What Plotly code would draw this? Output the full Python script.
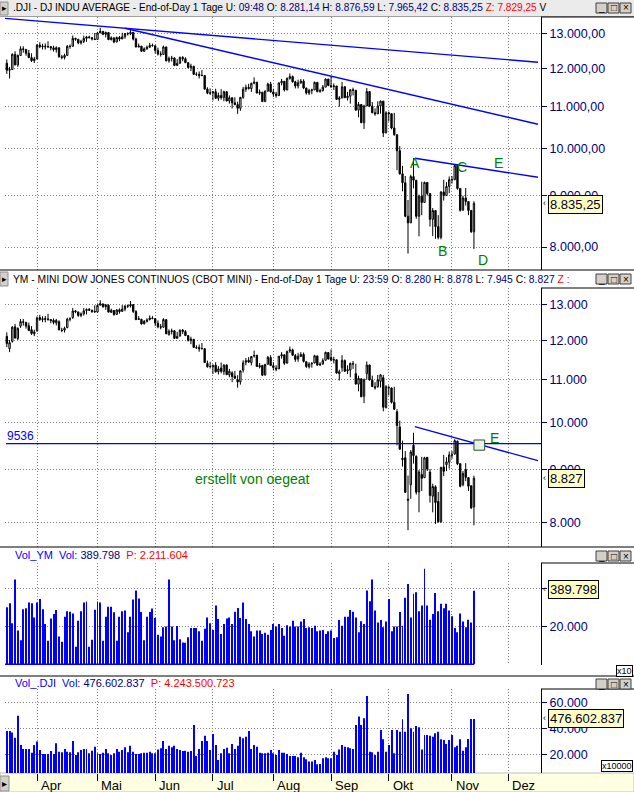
import math
import plotly.graph_objects as go

# ---------------- DATA ----------------
# trading-day index 0..170  (14 Mar 2008 .. 13 Nov 2008)
day_index = list(range(171))

month_labels = ["Apr", "Mai", "Jun", "Jul", "Aug", "Sep", "Okt", "Nov", "Dez"]
month_ticks = [11, 33, 54, 75, 97, 118, 139, 162, 182.5]

dji_open = [12145, 11951, 11972, 12393, 12100, 12361, 12549, 12533, 12423, 12302, 12216,
            12263, 12654, 12609, 12626, 12609, 12612, 12576, 12527, 12582, 12325, 12302, 12362, 12619, 12620, 12849, 12825, 12720, 12763, 12849, 12892, 12872, 12831,
            12820, 13010, 13058, 12970, 13021, 12814, 12867, 12746, 12876, 12832, 12898, 12993, 12987, 13028, 12829, 12601, 12626, 12480, 12548, 12594, 12646,
            12638, 12504, 12403, 12390, 12604, 12210, 12280, 12290, 12084, 12142, 12307, 12269, 12160, 12029, 12063, 11843, 11842, 11807, 11812, 11453, 11347,
            11350, 11382, 11216, 11289, 11232, 11384, 11147, 11229, 11101, 11055, 10963, 11239, 11447, 11497, 11467, 11603, 11632, 11349, 11371, 11131, 11398, 11584,
            11378, 11326, 11284, 11616, 11656, 11431, 11734, 11782, 11642, 11533, 11616, 11660, 11479, 11349, 11417, 11430, 11628, 11386, 11413, 11503, 11715,
            11544, 11517, 11533, 11188, 11221, 11511, 11231, 11269, 11434, 11422, 10918, 11059, 10610, 11020, 11388, 11016, 10854, 10825, 11022, 11143, 10365,
            10851, 10831, 10483, 10325, 9956, 9447, 9258, 8579, 8451, 9388, 9311, 8578, 8979, 8852, 9265, 9034, 8519, 8691, 8379, 8176, 9065, 8991, 9181,
            9325, 9320, 9625, 9139, 8696, 8944, 8871, 8694, 8281]
dji_high = [12249, 12045, 12422, 12480, 12388, 12622, 12622, 12533, 12516, 12421, 12321,
            12690, 12738, 12695, 12705, 12766, 12612, 12636, 12621, 12582, 12376, 12409, 12658, 12672, 12935, 12871, 12825, 12806, 12932, 12924, 12930, 12880, 13010,
            13040, 13163, 13060, 13050, 13040, 12910, 12867, 12900, 12920, 13015, 13010, 13030, 13136, 13028, 12870, 12700, 12626, 12590, 12640, 12720, 12700,
            12638, 12580, 12480, 12640, 12604, 12330, 12350, 12310, 12260, 12330, 12340, 12310, 12160, 12130, 12063, 11900, 11920, 11960, 11812, 11500, 11470,
            11400, 11460, 11360, 11450, 11410, 11400, 11290, 11230, 11240, 11130, 11250, 11510, 11570, 11590, 11620, 11760, 11640, 11440, 11380, 11420, 11620, 11640,
            11460, 11380, 11620, 11720, 11660, 11760, 11867, 11810, 11670, 11700, 11720, 11710, 11490, 11460, 11460, 11650, 11630, 11460, 11560, 11730, 11720,
            11790, 11600, 11533, 11270, 11640, 11530, 11380, 11450, 11490, 11422, 11120, 11059, 11050, 11480, 11390, 11120, 10960, 11140, 11160, 11143, 10890,
            10880, 10831, 10850, 10325, 10060, 9620, 9400, 8901, 9427, 9794, 9311, 9010, 9280, 9280, 9270, 9034, 8740, 8691, 8600, 9080, 9320, 9270, 9390,
            9400, 9654, 9625, 9139, 8990, 9150, 8871, 8694, 8877]
dji_low = [11855, 11731, 11972, 12085, 12046, 12361, 12440, 12352, 12283, 12180, 12150,
           12263, 12567, 12531, 12527, 12571, 12505, 12470, 12440, 12300, 12254, 12250, 12362, 12550, 12620, 12780, 12680, 12672, 12716, 12750, 12848, 12790, 12800,
           12814, 13006, 12940, 12880, 12800, 12790, 12710, 12740, 12770, 12832, 12840, 12935, 12946, 12790, 12590, 12590, 12460, 12460, 12520, 12580, 12610,
           12420, 12360, 12330, 12380, 12200, 12160, 12190, 12070, 12084, 12142, 12200, 12150, 12000, 11930, 11830, 11800, 11730, 11800, 11440, 11320, 11300,
           11160, 11200, 11150, 11180, 11140, 11140, 11080, 10960, 11040, 10827, 10900, 11200, 11380, 11440, 11380, 11580, 11340, 11300, 11120, 11120, 11390, 11360,
           11250, 11230, 11284, 11550, 11390, 11420, 11700, 11620, 11470, 11470, 11590, 11450, 11310, 11300, 11320, 11430, 11370, 11360, 11390, 11500, 11530,
           11480, 11430, 11170, 11000, 11221, 11220, 11160, 11080, 11290, 10900, 10740, 10600, 10460, 11020, 11000, 10840, 10780, 10825, 10830, 10270, 10365,
           10640, 10450, 10300, 9525, 9430, 9080, 8560, 7882, 8451, 9140, 8530, 8197, 8600, 8850, 8990, 8380, 8200, 8150, 8140, 8140, 8890, 8990, 9040,
           9240, 9320, 9110, 8670, 8696, 8790, 8600, 8260, 7965]
dji_close = [11951, 11972, 12393, 12100, 12361, 12549, 12533, 12423, 12302, 12216, 12263,
             12654, 12609, 12626, 12609, 12612, 12576, 12527, 12582, 12325, 12302, 12362, 12619, 12620, 12849, 12825, 12720, 12763, 12849, 12892, 12872, 12831, 12820,
             13010, 13058, 12970, 13021, 12814, 12867, 12746, 12876, 12832, 12898, 12993, 12987, 13028, 12829, 12601, 12626, 12480, 12548, 12594, 12646, 12638,
             12504, 12403, 12390, 12604, 12210, 12280, 12290, 12084, 12142, 12307, 12269, 12160, 12029, 12063, 11843, 11842, 11807, 11812, 11453, 11347, 11350,
             11382, 11216, 11289, 11232, 11384, 11147, 11229, 11101, 11055, 10963, 11239, 11447, 11497, 11467, 11603, 11632, 11349, 11371, 11131, 11398, 11584, 11378,
             11326, 11284, 11616, 11656, 11431, 11734, 11782, 11642, 11533, 11616, 11660, 11479, 11349, 11417, 11430, 11628, 11386, 11413, 11503, 11715, 11544,
             11517, 11533, 11188, 11221, 11511, 11231, 11269, 11434, 11422, 10918, 11059, 10610, 11020, 11388, 11016, 10854, 10825, 11022, 11143, 10365, 10851,
             10831, 10483, 10325, 9956, 9447, 9258, 8579, 8451, 9388, 9311, 8578, 8979, 8852, 9265, 9034, 8519, 8691, 8379, 8176, 9065, 8991, 9181, 9325,
             9320, 9625, 9139, 8696, 8944, 8871, 8694, 8283, 8835]

ym_open = [12120, 11790, 11985, 12380, 12060, 12400, 12520, 12505, 12410, 12300,
           12190, 12270, 12640, 12580, 12610, 12600, 12585, 12560, 12490, 12520,
           12290, 12290, 12360, 12600, 12640, 12830, 12800, 12700, 12745, 12840,
           12875, 12850, 12815, 12795, 12995, 13030, 12950, 12990, 12790, 12840,
           12730, 12860, 12815, 12880, 12975, 12970, 13010, 12810, 12585, 12590,
           12470, 12530, 12580, 12625, 12610, 12480, 12385, 12370, 12580, 12165,
           12250, 12270, 12065, 12125, 12290, 12250, 12140, 12005, 12040, 11810,
           11820, 11790, 11790, 11410, 11330, 11320, 11365, 11200, 11290, 11200,
           11370, 11120, 11170, 11090, 11000, 10950, 11240, 11440, 11490, 11430,
           11600, 11620, 11320, 11360, 11120, 11390, 11560, 11350, 11290, 11270,
           11600, 11630, 11420, 11730, 11760, 11610, 11520, 11590, 11640, 11450,
           11320, 11400, 11420, 11600, 11370, 11400, 11490, 11690, 11560, 11490,
           11500, 11150, 11300, 11480, 11220, 11240, 11390, 11150, 10890, 11020,
           10600, 11150, 11370, 10990, 10830, 10830, 10960, 11050, 10330, 10800,
           10800, 10460, 10240, 9900, 9200, 9240, 8400, 8700, 9500, 9270,
           8560, 8900, 8840, 9250, 8950, 8480, 8660, 8380, 8010, 9050,
           9100, 9150, 9300, 9320, 9590, 9120, 8700, 9000, 8840, 8680,
           8280]
ym_high = [12230, 12020, 12400, 12460, 12365, 12600, 12600, 12515, 12495, 12400,
           12300, 12670, 12715, 12675, 12685, 12745, 12595, 12615, 12600, 12560,
           12355, 12385, 12635, 12650, 12915, 12850, 12805, 12785, 12910, 12900,
           12910, 12860, 12990, 13020, 13140, 13040, 13030, 13020, 12890, 12850,
           12880, 12900, 12995, 12990, 13010, 13115, 13010, 12850, 12680, 12605,
           12570, 12620, 12700, 12680, 12620, 12560, 12460, 12620, 12585, 12310,
           12330, 12290, 12240, 12310, 12320, 12290, 12145, 12110, 12045, 11880,
           11900, 11940, 11795, 11480, 11450, 11380, 11440, 11340, 11430, 11390,
           11380, 11270, 11210, 11220, 11110, 11230, 11490, 11550, 11570, 11600,
           11740, 11620, 11420, 11360, 11400, 11600, 11620, 11440, 11360, 11600,
           11700, 11640, 11740, 11845, 11790, 11650, 11680, 11700, 11690, 11470,
           11440, 11440, 11630, 11610, 11440, 11540, 11710, 11700, 11770, 11580,
           11515, 11250, 11620, 11510, 11360, 11430, 11470, 11400, 11100, 11040,
           11030, 11460, 11370, 11100, 10940, 11120, 11140, 11120, 10870, 10860,
           10810, 10830, 10300, 10040, 9600, 9380, 8880, 9400, 9770, 9290,
           8990, 9260, 9260, 9250, 9010, 8720, 8690, 8560, 9060, 9300,
           9250, 9370, 9380, 9630, 9600, 9120, 8970, 9130, 8850, 8680,
           8878]
ym_low = [11830, 11700, 11950, 12060, 12020, 12350, 12415, 12330, 12260, 12160,
          12125, 12245, 12545, 12510, 12505, 12550, 12480, 12450, 12420, 12280,
          12230, 12225, 12340, 12530, 12600, 12760, 12660, 12650, 12695, 12730,
          12825, 12770, 12780, 12790, 12985, 12920, 12860, 12780, 12770, 12690,
          12720, 12750, 12810, 12820, 12915, 12925, 12770, 12570, 12570, 12440,
          12440, 12500, 12560, 12590, 12400, 12340, 12310, 12360, 12180, 12140,
          12170, 12050, 12060, 12120, 12180, 12130, 11980, 11910, 11810, 11780,
          11710, 11780, 11420, 11300, 11280, 11140, 11180, 11130, 11160, 11120,
          11120, 11060, 10940, 11020, 10805, 10880, 11180, 11360, 11420, 11360,
          11560, 11320, 11280, 11100, 11100, 11370, 11340, 11230, 11210, 11265,
          11530, 11370, 11400, 11680, 11600, 11450, 11450, 11570, 11430, 11290,
          11280, 11300, 11410, 11350, 11340, 11370, 11480, 11510, 11460, 11410,
          11150, 10980, 11200, 11200, 11140, 11060, 11270, 10880, 10720, 10580,
          10440, 11000, 10980, 10820, 10760, 10805, 10810, 10250, 10330, 10620,
          10430, 10280, 9500, 9410, 9060, 8540, 7860, 8430, 9120, 8510,
          8180, 8580, 8830, 8970, 8360, 8180, 7970, 7990, 7990, 8870,
          8970, 9020, 9220, 9300, 9090, 8650, 8670, 8770, 8580, 8240,
          7945]
ym_close = [11925, 11950, 12370, 12075, 12340, 12525, 12510, 12400, 12280, 12195,
            12240, 12630, 12585, 12605, 12590, 12590, 12555, 12505, 12560, 12300,
            12280, 12340, 12595, 12600, 12825, 12805, 12700, 12740, 12830, 12870,
            12850, 12810, 12800, 12985, 13035, 12950, 13000, 12795, 12845, 12725,
            12855, 12810, 12880, 12970, 12965, 13005, 12810, 12580, 12605, 12460,
            12530, 12575, 12625, 12615, 12485, 12380, 12370, 12585, 12190, 12260,
            12270, 12065, 12120, 12285, 12250, 12140, 12010, 12045, 11825, 11820,
            11785, 11790, 11430, 11325, 11330, 11360, 11195, 11270, 11210, 11365,
            11125, 11210, 11080, 11035, 10945, 11220, 11425, 11475, 11445, 11585,
            11610, 11330, 11350, 11110, 11380, 11565, 11355, 11305, 11265, 11595,
            11635, 11410, 11715, 11760, 11620, 11510, 11595, 11640, 11460, 11330,
            11395, 11410, 11605, 11365, 11390, 11480, 11695, 11520, 11495, 11510,
            11165, 11200, 11490, 11210, 11250, 11410, 11400, 10895, 11035, 10590,
            11000, 11365, 10995, 10835, 10805, 11000, 11120, 10345, 10830, 10810,
            10460, 10300, 9930, 9420, 9230, 8555, 8425, 9360, 9285, 8555,
            8950, 8825, 9240, 9010, 8495, 8665, 8360, 8010, 9040, 8965,
            9155, 9300, 9295, 9600, 9115, 8670, 8920, 8845, 8670, 8260,
            8827]

# YM volume (axis units, x10)
vol_ym = [30300, 32400, 21800, 45000, 17900, 12800, 29200, 29700, 32800, 32400,
          24900, 32800, 34700, 29200, 21400, 12500, 24300, 26700, 28800, 14800,
          11900, 25300, 28100, 27900, 27000, 9300, 23100, 28100, 32800, 33300,
          9300, 13000, 29000, 33300, 32800, 12500, 25300, 30600, 30600, 27600,
          12500, 25300, 28100, 28500, 17000, 25300, 34400, 39200, 34900, 27800,
          12800, 25300, 27800, 29600, 24600, 15700, 14800, 19600, 20000, 45000,
          20000, 12800, 20300, 13300, 11500, 11400, 14300, 19300, 19300, 19300,
          17500, 12500, 18800, 24900, 21800, 18200, 31200, 24000, 16100, 21400,
          24300, 24900, 21400, 27900, 29900, 24600, 32800, 24100, 21400, 17500,
          14800, 17900, 17900, 16100, 16800, 15700, 18200, 21400, 20000, 21400,
          19300, 15200, 20700, 20000, 23100, 20000, 20000, 22700, 24000, 19300,
          19600, 19300, 20500, 17500, 17900, 18200, 16100, 17500, 17900, 13900,
          14300, 23500, 20500, 25300, 25300, 28800, 27900, 24900, 17000, 22900,
          21400, 39200, 33500, 45000, 28500, 22200, 23500, 19600, 22700, 34700,
          17500, 20000, 20000, 27800, 20500, 35300, 42700, 24900, 37400, 38300,
          28100, 31200, 50700, 31200, 23700, 26700, 37900, 28100, 32100, 29700,
          32100, 28500, 25500, 19300, 17000, 27000, 22700, 19600, 23700, 22200,
          39000]

# DJI volume (axis units, x10000)
vol_dji = [38500, 38500, 37200, 33300, 50200, 27700, 24600, 24600, 24600, 21800,
           27700, 30300, 23800, 20800, 20800, 20800, 23000, 20800, 29000, 22500,
           22000, 24600, 22500, 22000, 30800, 20000, 22000, 23800, 24600, 24600,
           21300, 23300, 26400, 21300, 20800, 21800, 24600, 21300, 20000, 21300,
           24600, 22500, 23800, 25900, 22000, 27000, 22500, 20800, 20800, 21300,
           21800, 21800, 22500, 21300, 21300, 24300, 25100, 30800, 24600, 27000,
           25900, 27000, 24600, 23800, 23000, 23300, 22500, 23000, 43100, 19200,
           24600, 30800, 34700, 30800, 23800, 36200, 27700, 16100, 21300, 24600,
           25600, 21300, 28500, 24600, 27000, 34100, 32800, 34100, 38500, 24600,
           27700, 26400, 21800, 21300, 21300, 21800, 23800, 21300, 20000, 23800,
           21800, 21800, 20800, 19200, 19200, 19200, 18200, 21800, 18200, 16700,
           14900, 14900, 16100, 12800, 13100, 17400, 18200, 17400, 17400, 22500,
           20000, 24300, 27700, 26400, 25900, 25100, 24600, 43100, 49500, 43100,
           48200, 65400, 22500, 22000, 20000, 22500, 39200, 32000, 22500, 27700,
           39200, 21300, 39200, 37900, 47400, 37900, 66900, 40500, 37900, 42300,
           41300, 24300, 35400, 35400, 34700, 34100, 36700, 37900, 32000, 31500,
           28500, 31500, 35400, 25900, 27000, 32000, 23300, 25900, 32300, 47700,
           47700]

# trend lines / marks drawn by the author
dji_line1_x = [-1.0, 193.3]
dji_line1_y = [13450, 12173]
dji_line2_x = [43.0, 193.3]
dji_line2_y = [13150, 10572]
dji_line3_x = [148.5, 193.3]
dji_line3_y = [9786, 9374]
ym_line_x = [148.5, 193.3]
ym_line_y = [9905, 9181]
ym_level = 9536
ym_level_x = [-0.3, 194.4]
ym_ebox_x = [170.0, 173.9]
ym_ebox_y = [9397, 9615]

dji_point_labels = ["A", "C", "E", "B", "D"]
dji_point_x = [148.5, 165.5, 179.1, 158.5, 173.4]
dji_point_y = [9690, 9601, 9690, 7933, 7767]

dji_ticks = [8000, 9000, 10000, 11000, 12000, 13000]
dji_ticktext = ["8.000,00", "9.000,00", "10.000,00", "11.000,00", "12.000,00", "13.000,00"]
ym_ticks = [8000, 9000, 10000, 11000, 12000, 13000]
ym_ticktext = ["8.000", "9.000", "10.000", "11.000", "12.000", "13.000"]
volym_ticks = [20000, 40000]
volym_ticktext = ["20.000", ""]          # 40.000 label is hidden behind the value tag
voldji_ticks = [20000, 40000, 60000]
voldji_ticktext = ["20.000", "40.000", "60.000"]

NAVY = "#000080"
header1 = (".DJI - DJ INDU AVERAGE - End-of-Day 1 Tage U: <span style='color:#000080'>09:48</span>"
           " O: <span style='color:#000080'>8.281,14</span> H: <span style='color:#000080'>8.876,59</span>"
           " L: <span style='color:#000080'>7.965,42</span> C: <span style='color:#000080'>8.835,25</span>"
           " <span style='color:#ff0000'>Z: 7.829,25</span> V")
header2 = ("YM - MINI DOW JONES CONTINUOS (CBOT MINI) - End-of-Day 1 Tage U: <span style='color:#000080'>23:59</span>"
           " O: <span style='color:#000080'>8.280</span> H: <span style='color:#000080'>8.878</span>"
           " L: <span style='color:#000080'>7.945</span> C: <span style='color:#000080'>8.827</span>"
           " <span style='color:#ff0000'>Z :</span>")
header3 = ("<span style='color:#0000ff'>Vol_YM  Vol:</span> <span style='color:#000080'>389.798</span>"
           "  <span style='color:#ff0000'>P: 2.211.604</span>")
header4 = ("<span style='color:#0000ff'>Vol_.DJI  Vol:</span> <span style='color:#000080'>476.602.837</span>"
           "  <span style='color:#ff0000'>P: 4.243.500.723</span>")

# ---------------- LAYOUT GEOMETRY (pixels) ----------------
W, H = 634, 792
FONT = "Liberation Sans, Arial, sans-serif"


def px_y(p):
    return 1 - p / H


def px_x(p):
    return p / W


XDOM = [px_x(5), px_x(541)]
XRANGE = [-0.66, 194.4]

fig = go.Figure()

candle_style = dict(
    increasing=dict(line=dict(color="black", width=1), fillcolor="white"),
    decreasing=dict(line=dict(color="black", width=1), fillcolor="black"),
    whiskerwidth=0, showlegend=False, hoverinfo="skip")

fig.add_trace(go.Candlestick(x=day_index, open=dji_open, high=dji_high, low=dji_low, close=dji_close,
                             xaxis="x", yaxis="y", **candle_style))
fig.add_trace(go.Candlestick(x=day_index, open=ym_open, high=ym_high, low=ym_low, close=ym_close,
                             xaxis="x2", yaxis="y2", **candle_style))

line_style = dict(mode="lines", line=dict(color="#0000ff", width=1.4), showlegend=False, hoverinfo="skip")
for lx, ly in [(dji_line1_x, dji_line1_y), (dji_line2_x, dji_line2_y), (dji_line3_x, dji_line3_y)]:
    fig.add_trace(go.Scatter(x=lx, y=ly, xaxis="x", yaxis="y", **line_style))
fig.add_trace(go.Scatter(x=ym_line_x, y=ym_line_y, xaxis="x2", yaxis="y2", **line_style))
fig.add_trace(go.Scatter(x=ym_level_x, y=[ym_level, ym_level], xaxis="x2", yaxis="y2", **line_style))
fig.add_trace(go.Scatter(
    x=[ym_ebox_x[0], ym_ebox_x[1], ym_ebox_x[1], ym_ebox_x[0], ym_ebox_x[0]],
    y=[ym_ebox_y[0], ym_ebox_y[0], ym_ebox_y[1], ym_ebox_y[1], ym_ebox_y[0]],
    xaxis="x2", yaxis="y2", mode="lines", fill="toself", fillcolor="#e8f0e8",
    line=dict(color="#2f4f2f", width=1), showlegend=False, hoverinfo="skip"))

fig.add_trace(go.Bar(x=day_index, y=vol_ym, xaxis="x3", yaxis="y3", width=0.36,
                     marker=dict(color="#0000ff", line=dict(width=0)), showlegend=False, hoverinfo="skip"))
fig.add_trace(go.Scatter(x=[day_index[0] - 0.7, day_index[-1]], y=[0, 0], xaxis="x3", yaxis="y3",
                         mode="lines", line=dict(color="#0000ff", width=1.5), showlegend=False, hoverinfo="skip"))
fig.add_trace(go.Bar(x=day_index, y=vol_dji, xaxis="x4", yaxis="y4", width=0.36,
                     marker=dict(color="#0000ff", line=dict(width=0)), showlegend=False, hoverinfo="skip"))

grid = dict(showgrid=True, gridcolor="#808080", gridwidth=1, griddash="1px,2px", zeroline=False, fixedrange=True)


def xax(anchor, bottom=False):
    d = dict(domain=XDOM, range=XRANGE, anchor=anchor, tickmode="array", tickvals=month_ticks,
             showticklabels=False, showline=False, rangeslider=dict(visible=False), **grid)
    if bottom:
        d.update(ticks="outside", ticklen=7, tickcolor="black", tickwidth=1)
    else:
        d.update(ticks="")
    return d


def yax(anchor, top, bottom, rng, tv, tt, log=False):
    d = dict(domain=[px_y(bottom), px_y(top)], range=rng, anchor=anchor, side="right",
             tickmode="array", tickvals=tv, ticktext=tt, showline=True, linecolor="black", linewidth=1,
             ticks="outside", ticklen=5, tickcolor=NAVY, tickfont=dict(size=12.5, color=NAVY, family=FONT), **grid)
    if log:
        d["type"] = "log"
    return d


fig.update_layout(
    width=W, height=H, margin=dict(l=0, r=0, t=0, b=0),
    paper_bgcolor="white", plot_bgcolor="white", showlegend=False,
    font=dict(family=FONT, size=12, color="black"),
    xaxis=xax("y"), xaxis2=dict(xax("y2"), matches="x"),
    xaxis3=dict(xax("y3"), matches="x"), xaxis4=dict(xax("y4", bottom=True), matches="x"),
    yaxis=yax("x", 17, 270, [3.8804, 4.1300], dji_ticks, dji_ticktext, log=True),
    yaxis2=yax("x2", 288, 547, [3.8791, 4.1304], ym_ticks, ym_ticktext, log=True),
    yaxis3=yax("x3", 563, 665, [-400, 53800], volym_ticks, volym_ticktext),
    yaxis4=yax("x4", 689, 773, [6150, 70700], voldji_ticks, voldji_ticktext),
)

shapes = []
ann = []


def rect_px(x0, y0, x1, y1, fill, line="black", lw=1, layer="above"):
    shapes.append(dict(type="rect", xref="paper", yref="paper", x0=px_x(x0), x1=px_x(x1),
                       y0=px_y(y1), y1=px_y(y0), fillcolor=fill, line=dict(color=line, width=lw), layer=layer))


def line_px(x0, y0, x1, y1, color="black", lw=1):
    shapes.append(dict(type="line", xref="paper", yref="paper", x0=px_x(x0), x1=px_x(x1),
                       y0=px_y(y0), y1=px_y(y1), line=dict(color=color, width=lw), layer="above"))


def text_px(x, y, t, size=11, color="black", xanchor="left", **kw):
    ann.append(dict(xref="paper", yref="paper", x=px_x(x), y=px_y(y), text=t, showarrow=False,
                    xanchor=xanchor, yanchor="middle", font=dict(size=size, color=color, family=FONT), **kw))


# header strips
rect_px(0, 0, 634, 16, "#ebebeb", line="#ebebeb", lw=0, layer="below")
line_px(0, 16.5, 634, 16.5, "#a0a0a0")
for yl in (270, 547, 676):
    line_px(0, yl, 634, yl, "black", 1.2)
# axis-box tops on the right
for yt in (17, 288, 563, 689):
    line_px(541, yt, 634, yt, "black", 1)

# header texts
text_px(11, 8, header1, size=10.1)
text_px(11, 279, header2, size=10.3)
text_px(13, 555, header3, size=11)
text_px(13, 683, header4, size=11)

# left arrow tabs
for (ya, yb) in [(2, 15), (272, 286)]:
    rect_px(0, ya, 8, yb, "#d4d0c8", line="#909090")
    text_px(4, (ya + yb) / 2, "\u25B8", size=9, xanchor="center")

# window buttons
for yb in (3, 274, 551, 679):
    for k, g in enumerate(["_", "\u25A1", "\u00D7"]):
        x0 = 596 + 12 * k
        rect_px(x0, yb, x0 + 11, yb + 10, "#d4d0c8", line="#404040")
        text_px(x0 + 5.5, yb + 5, g, size=10, xanchor="center")

# value tags
for (yc, t) in [(204, "8.835,25"), (478.5, "8.827"), (589.5, "389.798"), (718.7, "476.602.837")]:
    ann.append(dict(xref="paper", yref="paper", x=px_x(548), y=px_y(yc), text=t, showarrow=False,
                    xanchor="left", yanchor="middle", bgcolor="#ffffc0", bordercolor="black",
                    borderwidth=1, borderpad=1, font=dict(size=13, color="#000030", family=FONT)))
    text_px(544, yc - 1, "\u2039", size=9, xanchor="center")

# unit boxes
ann.append(dict(xref="paper", yref="paper", x=px_x(633), y=px_y(671), text="x10", showarrow=False,
                xanchor="right", yanchor="middle", bgcolor="white", bordercolor="black", borderwidth=1,
                borderpad=0, font=dict(size=9, color="black", family=FONT)))
ann.append(dict(xref="paper", yref="paper", x=px_x(633), y=px_y(766), text="x10000", showarrow=False,
                xanchor="right", yanchor="middle", bgcolor="white", bordercolor="black", borderwidth=1,
                borderpad=0, font=dict(size=9, color="black", family=FONT)))

# bottom month band
rect_px(0, 773, 634, 792, "#ffffe1", line="#c0c0c0", lw=1, layer="below")
rect_px(0, 776, 9, 791, "#d4d0c8", line="#909090")
text_px(4.5, 783.5, "\u25B8", size=10, xanchor="center")
for mt, ml in zip(month_ticks, month_labels):
    ann.append(dict(xref="x4", yref="paper", x=mt, y=px_y(785.5), text=ml, showarrow=False,
                    xanchor="left", yanchor="middle", xshift=2, font=dict(size=13, color="black", family=FONT)))

# point labels A..E (panel 1, log axis -> log10 positions)
for lab, lx, ly in zip(dji_point_labels, dji_point_x, dji_point_y):
    ann.append(dict(xref="x", yref="y", x=lx, y=math.log10(ly), text=lab, showarrow=False,
                    xanchor="center", yanchor="middle", font=dict(size=14, color="#008000", family=FONT)))
# panel 2 labels
ann.append(dict(xref="x2", yref="y2", x=175.1, y=math.log10(9658), text="E", showarrow=False,
                xanchor="left", yanchor="middle", font=dict(size=14, color="#008000", family=FONT)))
ann.append(dict(xref="x2", yref="y2", x=67.8, y=math.log10(8813), text="erstellt von oegeat", showarrow=False,
                xanchor="left", yanchor="middle", font=dict(size=14, color="#008000", family=FONT)))
ann.append(dict(xref="x2", yref="y2", x=-0.65, y=math.log10(9702), text=str(ym_level), showarrow=False,
                xanchor="left", yanchor="middle", font=dict(size=12, color="#0000ff", family=FONT)))

fig.update_layout(shapes=shapes, annotations=ann)
fig.write_html("out.html", config={"displayModeBar": False},
               post_script="document.body.style.margin='0';")
